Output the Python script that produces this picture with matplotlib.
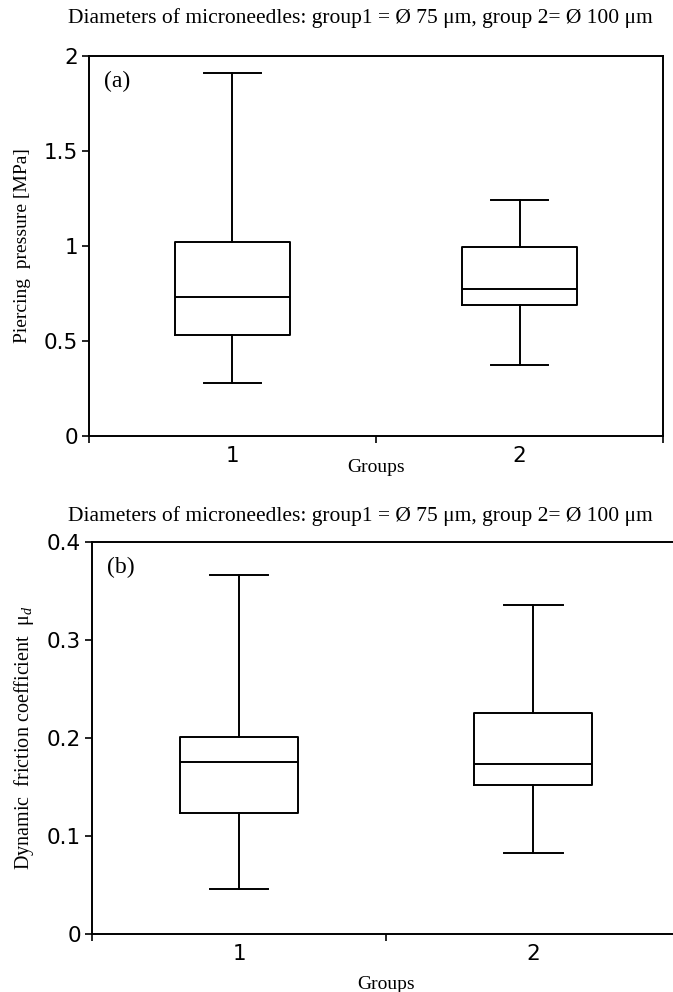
import matplotlib
matplotlib.use("Agg")
import matplotlib.pyplot as plt

# ---- data ----
groups = [1, 2]
group_labels = ["1", "2"]

# (a) piercing pressure [MPa]
press_whislo = [0.28, 0.375]
press_q1 = [0.53, 0.69]
press_med = [0.73, 0.775]
press_q3 = [1.02, 0.995]
press_whishi = [1.91, 1.24]

# (b) dynamic friction coefficient
fric_whislo = [0.046, 0.083]
fric_q1 = [0.123, 0.152]
fric_med = [0.175, 0.173]
fric_q3 = [0.201, 0.225]
fric_whishi = [0.366, 0.336]

title = "Diameters of microneedles: group1 = Ø 75 μm, group 2= Ø 100 μm"

serif = "Liberation Serif"
sans = "DejaVu Sans"

plt.rcParams["mathtext.fontset"] = "custom"
plt.rcParams["mathtext.rm"] = "Liberation Serif"
plt.rcParams["mathtext.it"] = "Liberation Serif:italic"


def make_stats(lo, q1, med, q3, hi):
    stats = []
    for i in range(len(med)):
        stats.append({"whislo": lo[i], "q1": q1[i], "med": med[i],
                      "q3": q3[i], "whishi": hi[i], "fliers": []})
    return stats


def draw_panel(ax, stats, ylim, yticks, yticklabels, ylabel, ylsize, tag, xlab_y):
    line = dict(color="black", linewidth=1.4)
    ax.bxp(stats, positions=groups, widths=0.4, capwidths=0.2,
           showfliers=False, boxprops=line, whiskerprops=line,
           capprops=line, medianprops=line)
    ax.set_xlim(0.5, 2.5)
    ax.set_ylim(*ylim)
    ax.set_yticks(yticks)
    ax.set_yticklabels(yticklabels, fontfamily=sans, fontsize=15.5, fontweight="medium")
    # tick marks between the groups, labels centred on the boxes
    ax.set_xticks([0.5, 1.5, 2.5])
    ax.set_xticklabels(["", "", ""])
    ax.set_xticks(groups, minor=True)
    ax.set_xticklabels(group_labels, minor=True, fontfamily=sans, fontsize=15.5,
                       fontweight="medium")
    ax.tick_params(axis="x", which="major", direction="out", length=5, width=1.2)
    ax.tick_params(axis="x", which="minor", length=0, pad=7)
    ax.tick_params(axis="y", direction="out", length=5, width=1.2, pad=3)
    for sp in ax.spines.values():
        sp.set_linewidth(1.4)
    ax.set_xlabel("Groups", fontfamily=serif, fontsize=14)
    ax.xaxis.set_label_coords(0.5, xlab_y)
    ax.xaxis.label.set_va("center")
    ax.set_ylabel(ylabel, fontfamily=serif, fontsize=ylsize)
    ax.yaxis.set_label_coords(-0.115, 0.5)
    ax.yaxis.label.set_va("center")
    ax.text(0.026, 0.962, tag, transform=ax.transAxes, fontfamily=serif,
            fontsize=17, va="top", ha="left")


fig = plt.figure(figsize=(6.73, 9.92), dpi=100)

ax1 = fig.add_axes([0.1322, 0.5605, 0.853, 0.383])
draw_panel(ax1, make_stats(press_whislo, press_q1, press_med, press_q3, press_whishi),
           (0, 2), [0, 0.5, 1, 1.5, 2], ["0", "0.5", "1", "1.5", "2"],
           "Piercing  pressure [MPa]", 14, "(a)", -0.082)

ax2 = fig.add_axes([0.1367, 0.0585, 0.874, 0.3952])
draw_panel(ax2, make_stats(fric_whislo, fric_q1, fric_med, fric_q3, fric_whishi),
           (0, 0.4), [0, 0.1, 0.2, 0.3, 0.4], ["0", "0.1", "0.2", "0.3", "0.4"],
           "Dynamic  friction coefficient  μ$_d$", 14.5, "(b)", -0.128)

fig.text(0.536, 1 - 18 / 992, title, fontfamily=serif, fontsize=15.5,
         ha="center", va="center")
fig.text(0.536, 1 - 516 / 992, title, fontfamily=serif, fontsize=15.5,
         ha="center", va="center")

fig.savefig("out.png", dpi=100)
